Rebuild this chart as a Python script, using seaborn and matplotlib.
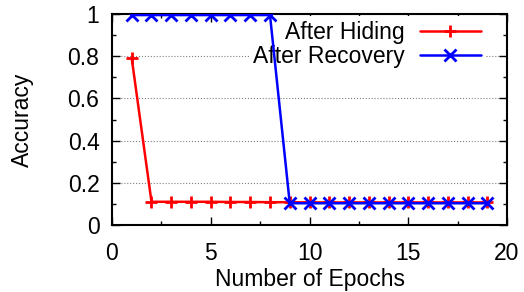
import numpy as np
import pandas as pd
import seaborn as sns
import matplotlib.pyplot as plt
from matplotlib.ticker import MultipleLocator

epochs = list(range(1, 20))
after_hiding = [0.79, 0.11, 0.11, 0.11, 0.11, 0.109, 0.109, 0.108, 0.108, 0.107,
                0.107, 0.107, 0.107, 0.107, 0.107, 0.107, 0.107, 0.107, 0.107]
after_recovery = [0.995, 0.995, 0.995, 0.995, 0.995, 0.995, 0.995, 0.995, 0.103, 0.103,
                  0.103, 0.103, 0.103, 0.103, 0.103, 0.103, 0.103, 0.103, 0.103]

df = pd.DataFrame({'Epoch': epochs + epochs,
                   'Accuracy': after_hiding + after_recovery,
                   'Series': ['After Hiding'] * len(epochs) + ['After Recovery'] * len(epochs)})

sns.set_style('ticks', {'text.color': 'black', 'axes.labelcolor': 'black',
                        'xtick.color': 'black', 'ytick.color': 'black'})
plt.rcParams['font.family'] = ['Liberation Sans', 'DejaVu Sans']
fs = 16.5

fig = plt.figure(figsize=(5.24, 2.92), dpi=100)
ax = fig.add_axes([0.2137, 0.2295, 0.7539, 0.7225])

colors = {'After Hiding': 'red', 'After Recovery': 'blue'}
markers = {'After Hiding': '+', 'After Recovery': 'x'}
for name in ['After Hiding', 'After Recovery']:
    sub = df[df['Series'] == name]
    sns.lineplot(data=sub, x='Epoch', y='Accuracy', ax=ax, color=colors[name],
                 marker=markers[name], markersize=8.5, markeredgewidth=2,
                 markeredgecolor=colors[name], linewidth=1.8, label=name, zorder=3)

ax.set_xlim(0, 20)
ax.set_ylim(0, 1)
ax.xaxis.set_major_locator(MultipleLocator(5))
ax.xaxis.set_minor_locator(MultipleLocator(2.5))
ax.yaxis.set_minor_locator(MultipleLocator(0.1))
ax.set_yticks([0, 0.2, 0.4, 0.6, 0.8, 1.0])
ax.set_yticklabels(['0', '0.2', '0.4', '0.6', '0.8', '1'])
ax.tick_params(which='both', direction='in', top=True, right=True, width=1,
               labelsize=fs, colors='black')
ax.tick_params(which='major', length=6, pad=9)
ax.tick_params(axis='x', which='major', pad=12)
ax.tick_params(which='minor', length=3)
for s in ax.spines.values():
    s.set_linewidth(1.5)
    s.set_color('black')
ax.yaxis.grid(True, which='major', linestyle=':', color='gray', linewidth=0.8)
ax.xaxis.grid(False)

ax.set_xlabel('Number of Epochs', fontsize=fs, labelpad=2.5, color='black')
ax.set_ylabel('Accuracy', fontsize=fs, labelpad=24, color='black')

leg = ax.legend(loc='upper right', bbox_to_anchor=(0.945, 0.99), borderaxespad=0,
                markerfirst=False, frameon=True, fancybox=False,
                handlelength=2.65, handletextpad=0.65, labelspacing=0.05,
                borderpad=0.2, fontsize=fs)
leg.get_frame().set_edgecolor('none')
leg.get_frame().set_facecolor('white')
leg.get_frame().set_alpha(1)
leg.set_zorder(2)
for t in leg.get_texts():
    t.set_color('black')

fig.savefig('out.png', dpi=100)
